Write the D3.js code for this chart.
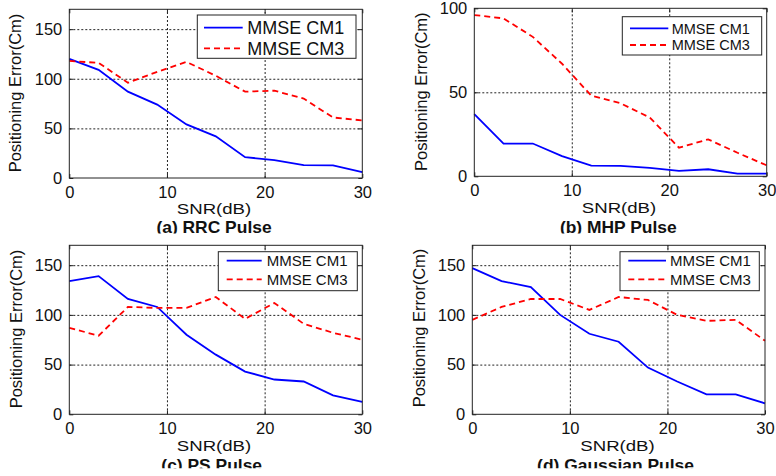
<!DOCTYPE html>
<html>
<head>
<meta charset="utf-8">
<script src="https://cdn.jsdelivr.net/npm/d3@7"></script>
<style>
  body { margin: 0; background: #fff; }
  svg { display: block; }
  text { font-family: "Liberation Sans", Arial, sans-serif; fill: #111; }
  .title { font-weight: bold; }
</style>
</head>
<body>
<svg id="chart" width="776" height="476"></svg>
<script>
// SNR 采样点
var snr = [0, 3, 6, 9, 12, 15, 18, 21, 24, 27, 30];
var seriesNames = ['MMSE CM1', 'MMSE CM3'];

// (a) RRC
var rrcCM1 = [120, 109, 87, 74, 54, 42, 21, 18, 13, 12.7, 6];
var rrcCM3 = [118, 116, 96, 107, 117, 103, 87, 88, 80, 61, 58];
// (b) MHP
var mhpCM1 = [37, 19.5, 19.5, 12, 6.4, 6.2, 5, 3.2, 4.2, 1.6, 1.6];
var mhpCM3 = [96, 94, 83, 67, 48, 43.5, 35, 17, 22, 14, 6.5];
// (c) PS
var psCM1 = [134, 139, 116, 108, 80, 60, 43, 35, 33, 19, 12.5];
var psCM3 = [87, 79, 108, 107, 107, 118, 96, 112, 91, 82, 75];
// (d) Gaussian
var gaussCM1 = [147, 134, 128, 100, 81, 73, 47, 33, 20, 20, 11];
var gaussCM3 = [95, 108, 116, 116, 105, 118, 115, 100, 94, 95, 74];

var xTicks = [0, 10, 20, 30];
var yTicksBig = [0, 50, 100, 150];
var yTicksSmall = [0, 50, 100];
var titles = ['(a) RRC Pulse', '(b) MHP Pulse', '(c) PS Pulse', '(d) Gaussian Pulse'];

// 面板布局
var panels = [
  { l: 69.3, r: 362.3, t: 9.3, b: 178, ymax: 170, yticks: yTicksBig, cm1: rrcCM1, cm3: rrcCM3,
    leg: { x: 197.3, y: 15, w: 158.7, h: 43.3, lx0: 204, lx1: 242.7, tx: 247.3, r1: 27.7, r2: 48.3, fs: 18 },
    ylab: { x: 15.5, y: 93 }, xlab: { x: 214, y: 213.5 }, title: { x: 214, y: 232.5 }, clip: 233.5 },
  { l: 474.3, r: 766.7, t: 8.3, b: 176.3, ymax: 100, yticks: yTicksSmall, cm1: mhpCM1, cm3: mhpCM3,
    leg: { x: 622.3, y: 16.7, w: 139.4, h: 38.3, lx0: 630, lx1: 668.3, tx: 671.7, r1: 28.3, r2: 45, fs: 14.5 },
    ylab: { x: 420.8, y: 91.7 }, xlab: { x: 619, y: 212.5 }, title: { x: 618.3, y: 232.5 }, clip: 233.5 },
  { l: 69.3, r: 362.3, t: 245.3, b: 414.3, ymax: 170, yticks: yTicksBig, cm1: psCM1, cm3: psCM3,
    leg: { x: 218.3, y: 251.7, w: 139, h: 39, lx0: 226.7, lx1: 261.7, tx: 266.7, r1: 260.7, r2: 279.3, fs: 15 },
    ylab: { x: 15.8, y: 329 }, xlab: { x: 214, y: 450.5 }, title: { x: 211.7, y: 471 }, clip: 468.3 },
  { l: 472.3, r: 765, t: 245.3, b: 414.3, ymax: 170, yticks: yTicksBig, cm1: gaussCM1, cm3: gaussCM3,
    leg: { x: 620, y: 251.7, w: 139.3, h: 39, lx0: 628.3, lx1: 666, tx: 670, r1: 260.7, r2: 279.3, fs: 15 },
    ylab: { x: 419, y: 328 }, xlab: { x: 617.5, y: 450.5 }, title: { x: 615.5, y: 471 }, clip: 468.3 }
];

var svg = d3.select('#chart');
var defs = svg.append('defs');

panels.forEach(function(p, i) {
  var width = p.r - p.l;
  var height = p.b - p.t;

  var xScale = d3.scaleLinear().domain([0, 30]).range([0, width]);
  var yScale = d3.scaleLinear().domain([0, p.ymax]).range([height, 0]);

  var g = svg.append('g').attr('transform', 'translate(' + p.l + ',' + p.t + ')');

  // 网格线
  g.append('g')
    .attr('transform', 'translate(0,' + height + ')')
    .call(d3.axisBottom(xScale).tickValues([10, 20]).tickSize(-height).tickFormat(''))
    .call(function(s) {
      s.select('.domain').remove();
      s.selectAll('line').attr('stroke', '#222').attr('stroke-dasharray', '2,2');
    });
  g.append('g')
    .call(d3.axisLeft(yScale).tickValues(p.yticks.filter(function(v) { return v > 0 && v < p.ymax; }))
      .tickSize(-width).tickFormat(''))
    .call(function(s) {
      s.select('.domain').remove();
      s.selectAll('line').attr('stroke', '#222').attr('stroke-dasharray', '2,2');
    });

  // 曲线
  var line = d3.line()
    .x(function(d, k) { return xScale(snr[k]); })
    .y(function(d) { return yScale(d); });

  g.append('path').datum(p.cm1)
    .attr('d', line).attr('fill', 'none')
    .attr('stroke', '#0000ff').attr('stroke-width', 1.8);
  g.append('path').datum(p.cm3)
    .attr('d', line).attr('fill', 'none')
    .attr('stroke', '#ff0000').attr('stroke-width', 1.8)
    .attr('stroke-dasharray', '6,4');

  // 边框
  g.append('rect').attr('width', width).attr('height', height)
    .attr('fill', 'none').attr('stroke', '#222').attr('stroke-width', 1);

  // 坐标轴(刻度朝内)
  var styleAxis = function(s) {
    s.select('.domain').remove();
    s.selectAll('line').attr('stroke', '#222');
    s.selectAll('text').attr('font-size', 16.5).attr('fill', '#111')
      .attr('font-family', '"Liberation Sans", Arial, sans-serif');
  };
  g.append('g').attr('transform', 'translate(0,' + height + ')')
    .call(d3.axisBottom(xScale).tickValues(xTicks).tickSizeInner(-4).tickSizeOuter(0).tickPadding(8))
    .call(styleAxis);
  g.append('g')
    .call(d3.axisLeft(yScale).tickValues(p.yticks).tickSizeInner(-4).tickSizeOuter(0).tickPadding(7))
    .call(styleAxis);
  g.append('g')
    .call(d3.axisTop(xScale).tickValues(xTicks).tickSizeInner(-4).tickSizeOuter(0).tickFormat(''))
    .call(styleAxis);
  g.append('g').attr('transform', 'translate(' + width + ',0)')
    .call(d3.axisRight(yScale).tickValues(p.yticks).tickSizeInner(-4).tickSizeOuter(0).tickFormat(''))
    .call(styleAxis);

  // 图例
  var lg = svg.append('g');
  lg.append('rect').attr('x', p.leg.x).attr('y', p.leg.y)
    .attr('width', p.leg.w).attr('height', p.leg.h)
    .attr('fill', '#fff').attr('stroke', '#222').attr('stroke-width', 1);
  [p.leg.r1, p.leg.r2].forEach(function(ry, k) {
    lg.append('line').attr('x1', p.leg.lx0).attr('x2', p.leg.lx1).attr('y1', ry).attr('y2', ry)
      .attr('stroke', k === 0 ? '#0000ff' : '#ff0000').attr('stroke-width', 1.8)
      .attr('stroke-dasharray', k === 0 ? null : '6,4');
    lg.append('text').attr('x', p.leg.tx).attr('y', ry).attr('dy', '0.36em')
      .attr('font-size', p.leg.fs).text(seriesNames[k]);
  });

  // 轴标题
  svg.append('text')
    .attr('transform', 'translate(' + p.ylab.x + ',' + p.ylab.y + ') rotate(-90)')
    .attr('text-anchor', 'middle').attr('dy', '0.36em')
    .attr('font-size', 16.5).text('Positioning Error(Cm)');
  svg.append('text')
    .attr('transform', 'translate(' + p.xlab.x + ',' + p.xlab.y + ') scale(1.2,1)')
    .attr('text-anchor', 'middle').attr('font-size', 15.5).text('SNR(dB)');

  // 小标题(底部被裁切)
  defs.append('clipPath').attr('id', 'clip' + i)
    .append('rect').attr('x', 0).attr('y', 0).attr('width', 776).attr('height', p.clip);
  svg.append('g').attr('clip-path', 'url(#clip' + i + ')')
    .append('text').attr('class', 'title')
    .attr('transform', 'translate(' + p.title.x + ',' + p.title.y + ') scale(1.09,1)')
    .attr('text-anchor', 'middle').attr('font-size', 16).text(titles[i]);
});
</script>
</body>
</html>
